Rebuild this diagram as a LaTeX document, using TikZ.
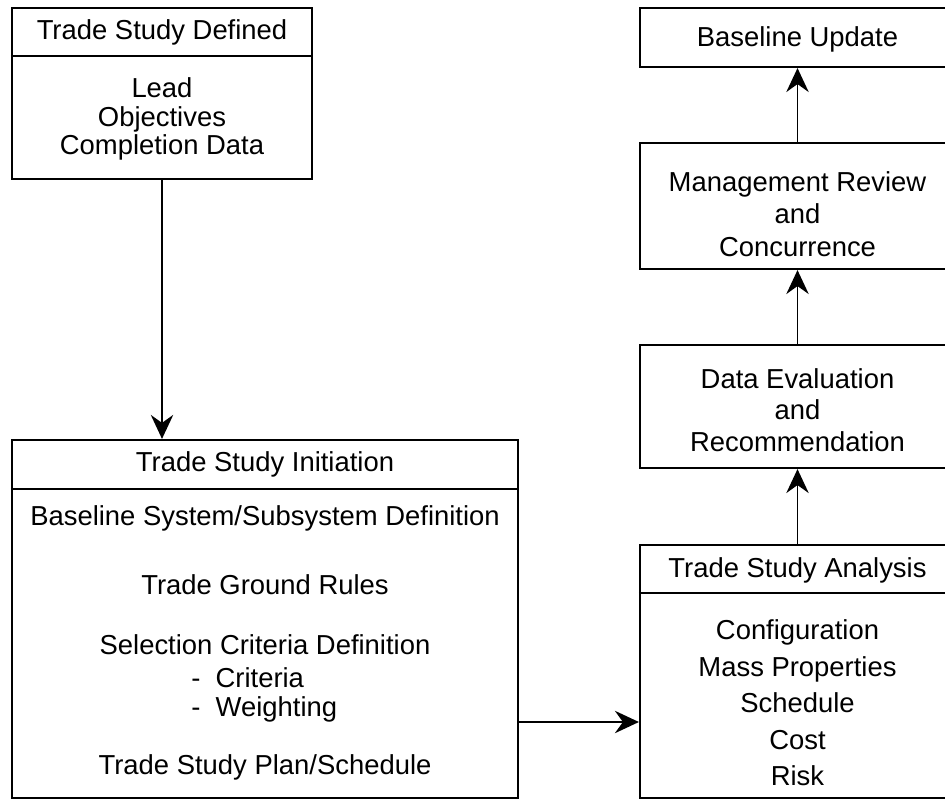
\documentclass[tikz,border=0pt]{standalone}
\usepackage{fontspec}
\setmainfont{Liberation Sans}
\usetikzlibrary{arrows.meta}

\begin{document}
\begin{tikzpicture}[x=0.025cm, y=-0.025cm,
  every node/.style={align=center, font=\fontsize{19.5}{20.5}\selectfont},
  box/.style={draw, line width=1.5pt, rectangle, inner sep=0pt},
  txt/.style={inner sep=0pt},
  arr/.style={-{Stealth[length=0.6cm, width=0.56cm, inset=0.2cm]}, line width=1.2pt}]

\useasboundingbox (0,0) rectangle (945,801);

% Left column
\node[box, minimum width=7.5cm, minimum height=4.275cm] (tsd) at (162,93.5) {};
\draw[line width=1.5pt] (tsd.west |- 0,56) -- (tsd.east |- 0,56);
\node[txt] (tsdtitle) at (162,32) {Trade Study Defined};
\node[txt] (tsdbody) at (162,119) {Lead\\Objectives\\Completion Data};

\node[box, minimum width=12.65cm, minimum height=8.95cm] (init) at (265,619) {};
\draw[line width=1.5pt] (init.west |- 0,489) -- (init.east |- 0,489);
\node[txt] (inittitle) at (265,464) {Trade Study Initiation};
\node[txt] (baseline) at (265,518) {Baseline System/Subsystem Definition};
\node[txt] (rules) at (265,585) {Trade Ground Rules};
\node[txt] (selection) at (265,645) {Selection Criteria Definition};
\node[txt, anchor=west, align=left] (criteria) at (191,695) {-\ \ Criteria\\-\ \ Weighting};
\node[txt] (plan) at (265,767) {Trade Study Plan/Schedule};

% Right column
\node[box, minimum width=7.875cm, minimum height=6.325cm] (tsa) at (797.5,671.5) {};
\draw[line width=1.5pt] (tsa.west |- 0,593) -- (tsa.east |- 0,593);
\node[txt] (tsatitle) at (797.5,570) {Trade Study Analysis};
\node[txt, font=\fontsize{19.5}{26}\selectfont] (tsabody) at (797.5,703)
  {Configuration\\Mass Properties\\Schedule\\Cost\\Risk};

\node[box, minimum width=7.875cm, minimum height=3.075cm] (evalbox) at (797.5,406.5) {};
\node[txt, font=\fontsize{19.5}{22.3}\selectfont] (evaltext) at (797.5,410)
  {Data Evaluation\\and\\Recommendation};

\node[box, minimum width=7.875cm, minimum height=3.15cm] (review) at (797.5,206) {};
\node[txt, font=\fontsize{19.5}{23}\selectfont] (reviewtext) at (797.5,214)
  {Management Review\\and\\Concurrence};

\node[box, minimum width=7.875cm, minimum height=1.475cm] (update) at (797.5,37.5) {};
\node[txt] (updatetext) at (797.5,39) {Baseline Update};

% Arrows
\coordinate (join) at (0,722);
\draw[arr] (tsd.south) -- (tsd.south |- init.north);
\draw[arr] (init.east |- join) -- (tsa.west |- join);
\draw[arr] (tsa.north) -- (evalbox.south);
\draw[arr] (evalbox.north) -- (review.south);
\draw[arr] (review.north) -- (update.south);

\end{tikzpicture}
\end{document}
